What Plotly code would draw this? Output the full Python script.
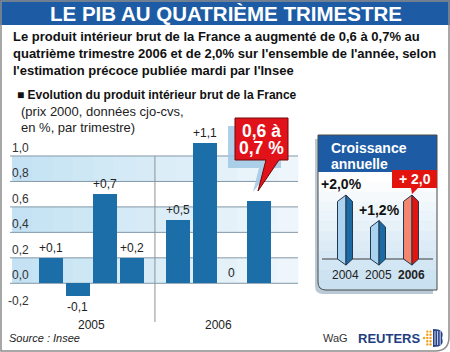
import plotly.graph_objects as go

W, H = 450, 352
def px(x): return x / W
def py(y): return 1 - y / H
def ppath(points, close=True):
    s = "M " + " L ".join(f"{px(x):.5f},{py(y):.5f}" for x, y in points)
    return s + (" Z" if close else "")

FONT = "Liberation Sans, Arial, sans-serif"

# ---------------- data ----------------
quarters = ["T1 2005", "T2 2005", "T3 2005", "T4 2005", "T1 2006", "T2 2006", "T3 2006", "T4 2006"]
quarter_values = [0.2, -0.1, 0.7, 0.2, 0.5, 1.1, 0.0, 0.65]
quarter_labels = ["+0,1", "-0,1", "+0,7", "+0,2", "+0,5", "+1,1", "0", ""]
year_groups = ["2005", "2006"]
y_tick_values = [-0.2, 0.0, 0.2, 0.4, 0.6, 0.8, 1.0]
y_tick_labels = ["-0,2", "0,0", "0,2", "0,4", "0,6", "0,8", "1,0"]
callout_lines = ["0,6 à", "0,7 %"]
annual_years = ["2004", "2005", "2006"]
annual_values = [2.0, 1.2, 2.0]
annual_labels = ["+2,0%", "+1,2%", "+ 2,0"]

# ---------------- layout helpers ----------------
x_pos = [i + (0.7 if i >= 4 else 0.0) for i in range(len(quarters))]
group_centers = [sum(x_pos[0:4]) / 4, sum(x_pos[4:8]) / 4]
divider_x = (x_pos[3] + x_pos[4]) / 2

BAR = "#1b6ea8"
fig = go.Figure()

# main bars
fig.add_trace(go.Bar(x=x_pos, y=quarter_values, width=0.89, hovertext=quarters,
                     marker=dict(color=BAR, line=dict(width=0)),
                     xaxis="x", yaxis="y", showlegend=False))

# annual crystals (xaxis2 / yaxis2)
hw, cap, bot = 0.227, 0.2, -0.19
for i, (yr, v) in enumerate(zip(annual_years, annual_values)):
    red = (i == len(annual_years) - 1)
    light = "#f5866f" if red else "#a9d3ef"
    dark = "#e3140e" if red else "#1c6aa3"
    c = i
    d = c + 0.03
    fig.add_trace(go.Scatter(x=[d, c - hw, c - hw, d, d], y=[bot, 0, v - cap, v, bot],
                             fill="toself", fillcolor=light, mode="lines",
                             line=dict(color="#22384f", width=1), xaxis="x2", yaxis="y2",
                             showlegend=False, hoverinfo="skip"))
    fig.add_trace(go.Scatter(x=[d, c + hw, c + hw, d, d], y=[bot, 0, v - cap, v, bot],
                             fill="toself", fillcolor=dark, mode="lines",
                             line=dict(color="#22384f", width=1), xaxis="x2", yaxis="y2",
                             showlegend=False, hoverinfo="skip"))

shapes = []
ann = []

def text(x, y, t, size, color="#111", xanchor="center", **kw):
    d = dict(x=px(x), y=py(y), xref="paper", yref="paper", text=t, showarrow=False,
             xanchor=xanchor, yanchor="middle", font=dict(family=FONT, size=size, color=color))
    d.update(kw)
    ann.append(d)

# outer border + title band
shapes.append(dict(type="rect", xref="paper", yref="paper", x0=0, x1=1, y0=py(25), y1=1,
                   fillcolor="#1d5ca5", line=dict(width=0), layer="below"))
shapes.append(dict(type="path", xref="paper", yref="paper",
                   path=f"M {px(1)},{py(1)} L {px(449)},{py(1)} L {px(449)},{py(337)} "
                        f"Q {px(449)},{py(351)} {px(435)},{py(351)} L {px(1)},{py(351)} Z",
                   line=dict(color="#8c8c8c", width=1.5), layer="above"))

# background bands with horizontal gradient
N = 14
c0, c1 = (196, 226, 243), (238, 246, 251)
for lo, hi in [(0.8, 1.0), (0.4, 0.6), (0.0, 0.2)]:
    for k in range(N):
        f = k / (N - 1)
        col = tuple(round(a + (b - a) * f) for a, b in zip(c0, c1))
        xa = 12 + (298 - 12) * k / N
        xb = 12 + (298 - 12) * (k + 1) / N + 0.5
        shapes.append(dict(type="rect", xref="paper", yref="y", x0=px(xa), x1=px(xb), y0=lo, y1=hi,
                           fillcolor=f"rgb{col}", line=dict(width=0), layer="below"))
# gridlines
for t in y_tick_values:
    if t >= 0:
        shapes.append(dict(type="line", xref="paper", yref="y", x0=px(10), x1=px(298), y0=t, y1=t,
                           line=dict(color="#8397a7", width=1), layer="below"))
# divider
shapes.append(dict(type="line", xref="x", yref="paper", x0=divider_x, x1=divider_x,
                   y0=py(156), y1=py(322), line=dict(color="#909090", width=1)))

# tick labels
for t, lab in zip(y_tick_values, y_tick_labels):
    ann.append(dict(x=px(31), xref="paper", y=t, yref="y", text=lab, showarrow=False,
                    xanchor="right", yanchor="bottom", yshift=-1,
                    font=dict(family=FONT, size=12, color="#333")))
# value labels
for x, v, lab in zip(x_pos, quarter_values, quarter_labels):
    if not lab:
        continue
    ann.append(dict(x=x, y=v, xref="x", yref="y", text=lab, showarrow=False, xanchor="center",
                    yanchor="top" if v < 0 else "bottom", yshift=-2 if v < 0 else 1,
                    font=dict(family=FONT, size=12, color="#222")))
# year labels
for gx, yr in zip(group_centers, year_groups):
    ann.append(dict(x=gx, xref="x", y=py(325), yref="paper", text=yr, showarrow=False,
                    xanchor="center", yanchor="middle", font=dict(family=FONT, size=12, color="#222")))

# callout
shapes.append(dict(type="path", xref="paper", yref="paper",
                   path=ppath([(228, 126), (281, 126), (281, 168), (272, 168), (253, 192), (259, 168), (228, 168)]),
                   fillcolor="rgba(160,200,228,0.85)", line=dict(width=0)))
shapes.append(dict(type="path", xref="paper", yref="paper",
                   path=ppath([(235, 118), (288, 118), (288, 160), (279, 160), (258, 191), (266, 160), (235, 160)]),
                   fillcolor="#e2121b", line=dict(color="#6e0a0a", width=1)))
for yy, t in zip([130.5, 148], callout_lines):
    text(261.5, yy, f"<b>{t}</b>", 17.5, "white", borderpad=0)

# inset box
shapes.append(dict(type="path", xref="paper", yref="paper", layer="below",
                   path=f"M {px(315)},{py(139)} L {px(433)},{py(139)} L {px(433)},{py(294)} "
                        f"L {px(323)},{py(294)} Q {px(315)},{py(294)} {px(315)},{py(286)} Z",
                   fillcolor="#b9c9d6", line=dict(width=0)))
NB = 12
g0, g1 = (255, 255, 255), (200, 224, 240)
for k in range(NB):
    f = k / (NB - 1)
    col = tuple(round(a + (b - a) * f) for a, b in zip(g0, g1))
    ya = 172 + (290 - 172) * k / NB
    yb = 172 + (290 - 172) * (k + 1) / NB + 0.5
    if k == NB - 1:
        shapes.append(dict(type="path", xref="paper", yref="paper", layer="below",
                           path=f"M {px(318)},{py(ya)} L {px(437)},{py(ya)} L {px(437)},{py(290)} "
                                f"L {px(326)},{py(290)} Q {px(318)},{py(290)} {px(318)},{py(282)} Z",
                           fillcolor=f"rgb{col}", line=dict(width=0)))
    else:
        shapes.append(dict(type="rect", xref="paper", yref="paper", x0=px(318), x1=px(437), layer="below",
                           y0=py(yb), y1=py(ya), fillcolor=f"rgb{col}", line=dict(width=0)))
shapes.append(dict(type="rect", xref="paper", yref="paper", x0=px(318), x1=px(437), layer="below",
                   y0=py(172), y1=py(135), fillcolor="#1d5ca5", line=dict(width=0)))
shapes.append(dict(type="path", xref="paper", yref="paper",
                   path=f"M {px(318)},{py(135)} L {px(437)},{py(135)} L {px(437)},{py(290)} "
                        f"L {px(326)},{py(290)} Q {px(318)},{py(290)} {px(318)},{py(282)} Z",
                   line=dict(color="#4a4a4a", width=1)))
shapes.append(dict(type="line", xref="paper", yref="y2", x0=px(322), x1=px(433), y0=0, y1=0,
                   layer="below", line=dict(color="#3a3a3a", width=1.2)))
text(329, 148, "<b>Croissance</b>", 14, "white", xanchor="left")
text(329, 163.5, "<b>annuelle</b>", 14, "white", xanchor="left")
# red tag for last year
shapes.append(dict(type="path", xref="paper", yref="paper",
                   path=ppath([(392, 170), (437, 170), (437, 188), (418, 188), (412, 194), (411, 188), (392, 188)]),
                   fillcolor="#e3140e", line=dict(width=0)))
for i, (yr, v, lab) in enumerate(zip(annual_years, annual_values, annual_labels)):
    last = (i == len(annual_years) - 1)
    if last:
        text(414.5, 179, f"<b>{lab}</b>", 14, "white")
    else:
        ann.append(dict(x=i, y=v, xref="x2", yref="y2", text=f"<b>{lab}</b>", showarrow=False,
                        xanchor="center", yanchor="bottom", yshift=1, xshift=-4 if i == 0 else 1,
                        font=dict(family=FONT, size=14, color="#111")))
    ann.append(dict(x=i, xref="x2", y=py(275), yref="paper", xanchor="center", yanchor="middle",
                    text=f"<b>{yr}</b>" if last else yr, showarrow=False,
                    font=dict(family=FONT, size=12, color="#222")))

# texts
text(226, 13, "<b>LE PIB AU QUATRIÈME TRIMESTRE</b>", 20.5, "white")
sub = ["Le produit intérieur brut de la France a augmenté de 0,6 à 0,7% au",
       "quatrième trimestre 2006 et de 2,0% sur l'ensemble de l'année, selon",
       "l'estimation précoce publiée mardi par l'Insee"]
for yy, t in zip([36, 53, 70], sub):
    text(11, yy, f"<b>{t}</b>", 13, "#111", xanchor="left")
text(15, 95, "<b>■ Evolution du produit intérieur brut de la France</b>", 12, "#111", xanchor="left")
for yy, t in zip([112, 127.5], ["(prix 2000, données cjo-cvs,", "en %, par trimestre)"]):
    text(19, yy, t, 13, "#222", xanchor="left")
text(7, 338, "<i>Source : Insee</i>", 11, "#222", xanchor="left")
text(350, 338, "WaG", 11, "#333", xanchor="right")
text(356, 338, "<b>REUTERS</b>", 13, "#223d80", xanchor="left")

# reuters logo: dots + blue half disc
cx, cy, r = 433, 338, 9
shapes.append(dict(type="path", xref="paper", yref="paper",
                   path=f"M {px(cx)},{py(cy - r)} Q {px(cx + r * 1.35)},{py(cy - r)} {px(cx + r * 1.0)},{py(cy)} "
                        f"Q {px(cx + r * 1.35)},{py(cy + r)} {px(cx)},{py(cy + r)} Z",
                   fillcolor="#24418a", line=dict(width=0)))
for row in range(5):
    for col in range(3):
        dx = cx - 2.5 - col * 3.2
        dy = cy - 6.4 + row * 3.2
        if (dx - cx) ** 2 + (dy - cy) ** 2 > r * r:
            continue
        shapes.append(dict(type="circle", xref="paper", yref="paper",
                           x0=px(dx - 1.2), x1=px(dx + 1.2), y0=py(dy + 1.2), y1=py(dy - 1.2),
                           fillcolor="#f0a11e", line=dict(width=0)))
for k in range(3):
    xx = cx + 2 + k * 2.6
    shapes.append(dict(type="line", xref="paper", yref="paper", x0=px(xx), x1=px(xx),
                       y0=py(cy - 7), y1=py(cy + 7), line=dict(color="white", width=0.8)))

fig.update_layout(
    width=W, height=H, margin=dict(l=0, r=0, t=0, b=0),
    paper_bgcolor="white", plot_bgcolor="rgba(0,0,0,0)",
    xaxis=dict(domain=[px(12), px(298)], range=[-1.444, 9.148], visible=False, fixedrange=True),
    yaxis=dict(domain=[py(322), py(130)], range=[-0.304, 1.204], visible=False, fixedrange=True),
    xaxis2=dict(domain=[px(322), px(432)], range=[-0.697, 2.636], visible=False, anchor="y2"),
    yaxis2=dict(domain=[py(267), py(175.8)], range=[-0.25, 2.6], visible=False, anchor="x2"),
    shapes=shapes, annotations=ann, bargap=0, showlegend=False,
)
fig.write_html("out.html")
